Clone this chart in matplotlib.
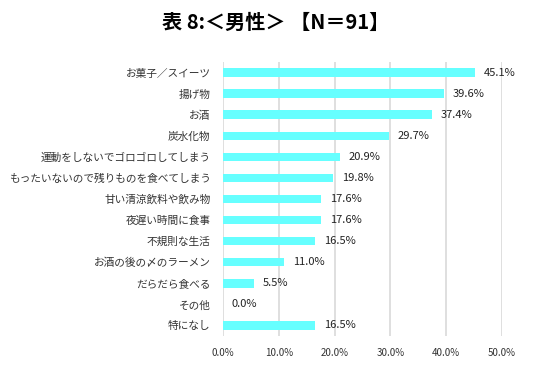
import matplotlib
matplotlib.use("Agg")
import matplotlib.pyplot as plt

plt.rcParams['font.family'] = ['Noto Sans CJK JP', 'DejaVu Sans']

categories = ["お菓子／スイーツ", "揚げ物", "お酒", "炭水化物", "運動をしないでゴロゴロしてしまう",
              "もったいないので残りものを食べてしまう", "甘い清涼飲料や飲み物", "夜遅い時間に食事",
              "不規則な生活", "お酒の後の〆のラーメン", "だらだら食べる", "その他", "特になし"]
values = [45.1, 39.6, 37.4, 29.7, 20.9, 19.8, 17.6, 17.6, 16.5, 11.0, 5.5, 0.0, 16.5]
xticks = [0, 10, 20, 30, 40, 50]
title = "表 8:＜男性＞ 【N＝91】"

fig = plt.figure(figsize=(5.39, 3.70), dpi=100)
ax = fig.add_axes([223/539, 1 - 336/370, (502-223)/539, (336-62)/370])

y = list(range(len(categories)))
ax.barh(y, values, height=0.4, color="#66FFFF", zorder=3)
ax.set_ylim(len(categories) - 0.5, -0.5)
ax.set_xlim(0, 50)
ax.set_yticks(y)
ax.set_yticklabels(categories, fontsize=7.7, color="#333333")
ax.set_xticks(xticks)
ax.set_xticklabels([f"{t:.1f}%" for t in xticks], fontsize=7, color="#333333")
ax.tick_params(length=0)
ax.tick_params(axis='y', pad=9)
ax.tick_params(axis='x', pad=9)
ax.grid(axis='x', color="#D9D9D9", linewidth=1.2, zorder=0)
for s in ax.spines.values():
    s.set_visible(False)

for yi, v in zip(y, values):
    ax.text(v + 1.6, yi, f"{v:.1f}%", va='center', ha='left', fontsize=8, color="#222222", zorder=4)

fig.text(275.5/539, 1 - 22/370, title, ha='center', va='center', fontsize=14.5, fontweight='bold', color='black')

fig.savefig("out.png", dpi=100)
